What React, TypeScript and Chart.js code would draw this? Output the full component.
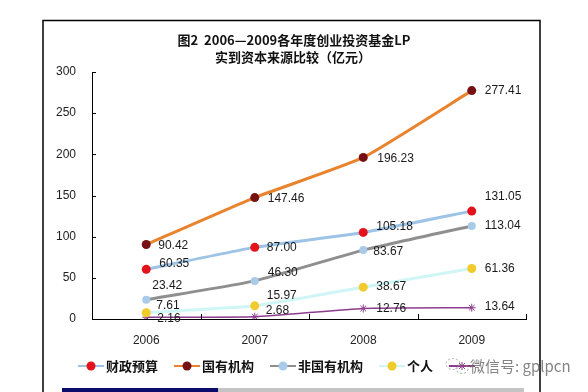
import React, { useEffect, useRef } from "react";
import { Chart, registerables } from "chart.js";
Chart.register(...registerables);

const categories = ["2006", "2007", "2008", "2009"];
const fiscalBudget = [60.35, 87.0, 105.18, 131.05];
const stateOwned = [90.42, 147.46, 196.23, 277.41];
const nonStateOwned = [23.42, 46.3, 83.67, 113.04];
const individual = [7.61, 15.97, 38.67, 61.36];
const others = [2.16, 2.68, 12.76, 13.64];
const seriesNames = ["财政预算", "国有机构", "非国有机构", "个人", "其他"];
const yMin = 0;
const yMax = 300;
const yStep = 50;
const titleLines = ["图2  2006—2009各年度创业投资基金LP", "实到资本来源比较（亿元）"];
const watermarkText = "微信号: gplpcn";

// styles (kept separate from the values)
const styles = [
  { line: "#9DC3E6", point: "#E3121B", width: 3, radius: 4.5, pointStyle: "circle", dx: [13, 12, 13, 13], dy: [-6, 0, -6, -14] },
  { line: "#E8832E", point: "#761012", width: 3, radius: 4.5, pointStyle: "circle", dx: [12, 13, 14, 13], dy: [1, 1, 1, 0] },
  { line: "#8F8F8F", point: "#A9CBEA", width: 3, radius: 4, pointStyle: "circle", dx: [6, 13, 10, 13], dy: [-14, -8, 2, 0] },
  { line: "#CFF6F4", point: "#F1CB2C", width: 3, radius: 4.5, pointStyle: "circle", dx: [10, 12, 13, 13], dy: [-7, -10, 0, 0] },
  { line: "#8E3D8E", point: "#8E3D8E", width: 1.5, radius: 4, pointStyle: "star", dx: [11, 11, 13, 13], dy: [1, -6, 0, -1] },
];
const seriesValues = [fiscalBudget, stateOwned, nonStateOwned, individual, others];

const NUM_FONT = "'Liberation Sans', Arial, sans-serif";
const CJK_FONT = "'Noto Sans CJK SC', 'Noto Sans', sans-serif";

const decorPlugin = {
  id: "decor",
  beforeDraw(chart: any) {
    const ctx = chart.ctx;
    ctx.save();
    ctx.fillStyle = "#ffffff";
    ctx.fillRect(0, 0, chart.width, chart.height);
    ctx.restore();
  },
  afterDraw(chart: any) {
    const ctx = chart.ctx;
    const area = chart.chartArea;
    const xs = chart.scales.x;
    const ys = chart.scales.y;
    ctx.save();

    // outer frame
    ctx.strokeStyle = "#000";
    ctx.lineWidth = 1.5;
    ctx.beginPath();
    ctx.moveTo(43, 392);
    ctx.lineTo(43, 20.5);
    ctx.lineTo(540, 20.5);
    ctx.lineTo(540, 392);
    ctx.stroke();

    // title
    ctx.fillStyle = "#111";
    ctx.font = `bold 13px ${CJK_FONT}`;
    ctx.textAlign = "center";
    ctx.textBaseline = "middle";
    ctx.fillText(titleLines[0], 294, 40);
    ctx.fillText(titleLines[1], 293, 57);

    // inward tick marks
    ctx.strokeStyle = "#000";
    ctx.lineWidth = 1;
    ctx.beginPath();
    ys.ticks.forEach((t: any) => {
      const py = Math.round(ys.getPixelForValue(t.value)) + 0.5;
      ctx.moveTo(area.left, py);
      ctx.lineTo(area.left + 4, py);
    });
    const n = categories.length;
    for (let i = 0; i <= n; i++) {
      let px: number;
      if (i === 0) px = area.left;
      else if (i === n) px = area.right;
      else px = (xs.getPixelForValue(i - 1) + xs.getPixelForValue(i)) / 2;
      px = Math.round(px) + 0.5;
      ctx.moveTo(px, area.bottom);
      ctx.lineTo(px, area.bottom - 5);
    }
    ctx.stroke();

    // legend
    const ly = 366;
    let lx = 78;
    ctx.textAlign = "left";
    ctx.textBaseline = "middle";
    seriesNames.forEach((name, i) => {
      const s = styles[i];
      ctx.strokeStyle = s.line;
      ctx.lineWidth = 2;
      ctx.beginPath();
      ctx.moveTo(lx, ly);
      ctx.lineTo(lx + 26, ly);
      ctx.stroke();
      const cx = lx + 13;
      if (s.pointStyle === "star") {
        ctx.strokeStyle = s.point;
        ctx.lineWidth = 1;
        ctx.beginPath();
        const r = 4;
        for (let k = 0; k < 4; k++) {
          const a = (k * Math.PI) / 4;
          ctx.moveTo(cx - r * Math.cos(a), ly - r * Math.sin(a));
          ctx.lineTo(cx + r * Math.cos(a), ly + r * Math.sin(a));
        }
        ctx.stroke();
      } else {
        ctx.fillStyle = s.point;
        ctx.beginPath();
        ctx.arc(cx, ly, 4.5, 0, Math.PI * 2);
        ctx.fill();
      }
      ctx.font = `bold 13px ${CJK_FONT}`;
      ctx.fillStyle = "#111";
      const w = ctx.measureText(name).width;
      if (i < seriesNames.length - 1) {
        ctx.fillText(name, lx + 28, ly);
      }
      lx += 28 + w + 16;
    });

    // watermark
    ctx.strokeStyle = "rgba(150,150,150,0.8)";
    ctx.lineWidth = 1;
    ctx.setLineDash([2, 2]);
    ctx.beginPath();
    ctx.ellipse(453, 364, 7, 5.5, 0, 0, Math.PI * 2);
    ctx.stroke();
    ctx.beginPath();
    ctx.ellipse(462, 369, 6, 4.5, 0, 0, Math.PI * 2);
    ctx.stroke();
    ctx.setLineDash([]);
    ctx.fillStyle = "rgba(110,110,110,0.85)";
    ctx.font = `15px ${CJK_FONT}`;
    ctx.textAlign = "left";
    ctx.fillText(watermarkText, 470, 366);

    // bottom bar
    ctx.fillStyle = "#0B0B6B";
    ctx.fillRect(62, 388, 156, 4);
    ctx.fillStyle = "#C4C4C4";
    ctx.fillRect(218, 388, 306, 4);

    ctx.restore();
  },
  afterDatasetsDraw(chart: any) {
    const ctx = chart.ctx;
    ctx.save();
    ctx.font = `12px ${NUM_FONT}`;
    ctx.fillStyle = "#1a1a1a";
    ctx.textAlign = "left";
    ctx.textBaseline = "middle";
    chart.data.datasets.forEach((ds: any, di: number) => {
      const meta = chart.getDatasetMeta(di);
      const s = styles[di];
      meta.data.forEach((pt: any, i: number) => {
        const v = ds.data[i] as number;
        ctx.fillText(v.toFixed(2), pt.x + s.dx[i], pt.y + s.dy[i]);
      });
    });
    ctx.restore();
  },
};

export default function App() {
  const ref = useRef<HTMLCanvasElement | null>(null);
  useEffect(() => {
    if (!ref.current) return;
    const chart = new Chart(ref.current, {
      type: "line",
      data: {
        labels: categories,
        datasets: seriesValues.map((vals, i) => ({
          label: seriesNames[i],
          data: vals,
          borderColor: styles[i].line,
          borderWidth: styles[i].width,
          backgroundColor: styles[i].point,
          pointBackgroundColor: styles[i].point,
          pointBorderColor: styles[i].point,
          pointBorderWidth: styles[i].pointStyle === "star" ? 1 : 0,
          pointRadius: styles[i].radius,
          pointStyle: styles[i].pointStyle as any,
          tension: 0.15,
          fill: false,
        })),
      },
      options: {
        responsive: false,
        animation: false,
        devicePixelRatio: 1,
        layout: { padding: { top: 72, right: 62, left: 0, bottom: 0 } },
        plugins: { legend: { display: false }, tooltip: { enabled: false }, title: { display: false } },
        scales: {
          x: {
            type: "category",
            offset: true,
            grid: { display: false, drawTicks: false },
            border: { display: true, color: "#000", width: 1 },
            ticks: { color: "#222", font: { family: NUM_FONT, size: 12 }, padding: 14, maxRotation: 0 },
            afterFit: (s: any) => { s.height = 73; },
          },
          y: {
            min: yMin,
            max: yMax,
            grid: { display: false, drawTicks: false },
            border: { display: true, color: "#000", width: 1 },
            ticks: { stepSize: yStep, color: "#222", font: { family: NUM_FONT, size: 12 }, padding: 16 },
            afterFit: (s: any) => { s.width = 92; },
          },
        },
      },
      plugins: [decorPlugin],
    });
    return () => chart.destroy();
  }, []);
  return (
    <div style={{ position: "absolute", left: 0, top: 0, width: 588, height: 392 }}>
      <canvas ref={ref} width={588} height={392} style={{ width: 588, height: 392, display: "block" }} />
    </div>
  );
}
